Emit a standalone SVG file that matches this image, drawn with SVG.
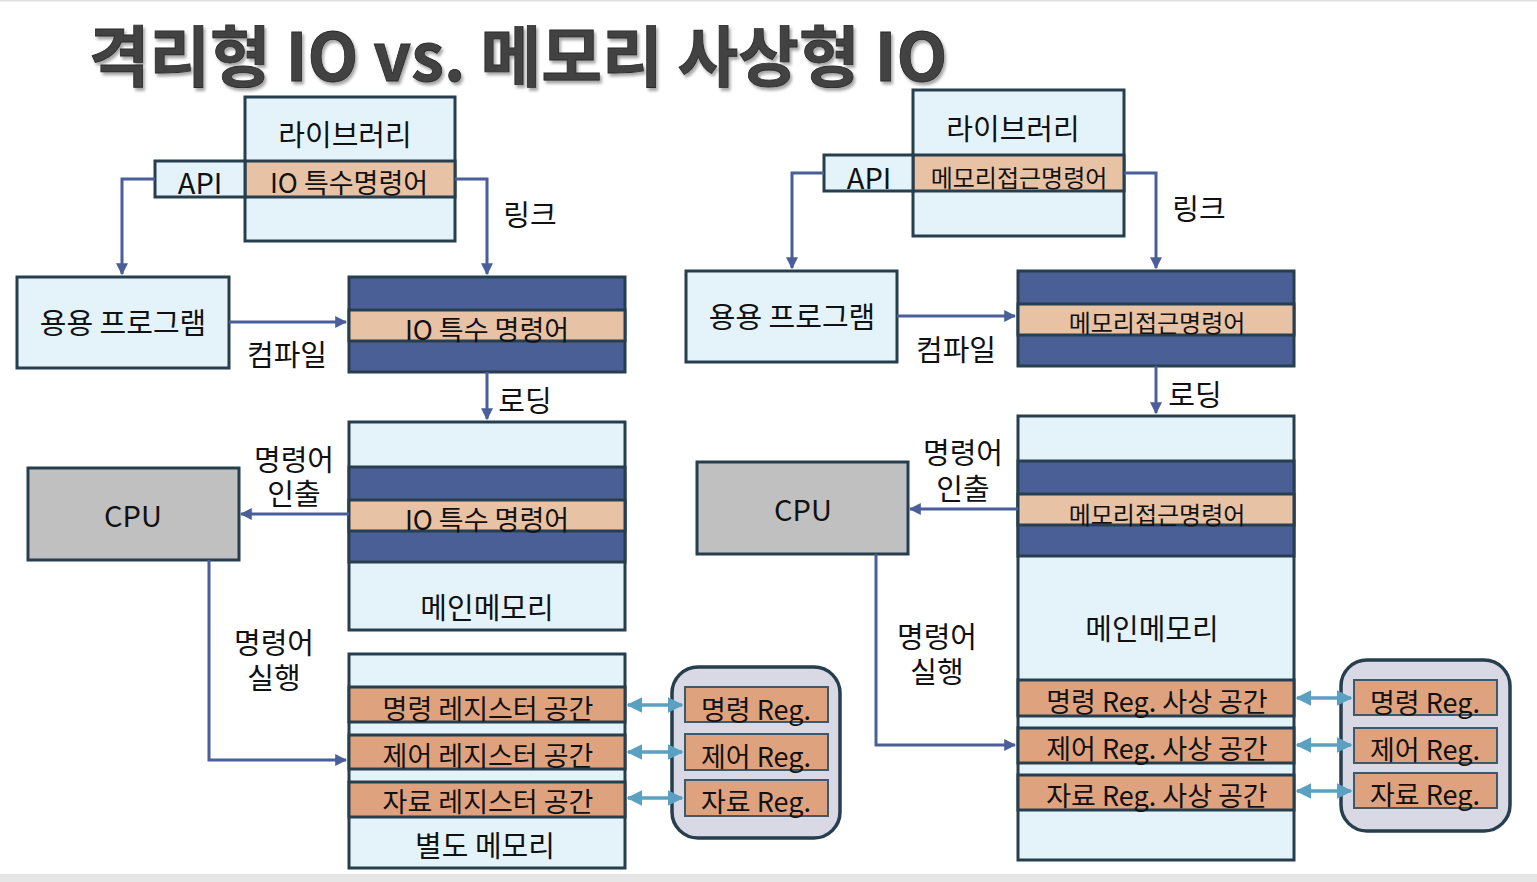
<svg xmlns="http://www.w3.org/2000/svg" width="1537" height="882" viewBox="0 0 1537 882">
<defs>
<style>
.t{font-family:"Noto Sans CJK KR","Liberation Sans",sans-serif;fill:#111;text-anchor:middle;dominant-baseline:central;font-size:29px}
.s{font-size:24px}
.r{font-size:27px}
.title{font-family:"Noto Sans CJK KR","Liberation Sans",sans-serif;font-weight:bold;font-size:66px;fill:#424242;text-anchor:middle;dominant-baseline:central;stroke:#2a2a2a;stroke-width:0.8}
.lb{fill:#e4f3f9;stroke:#263e4e;stroke-width:3}
.dk{fill:#4a5f96;stroke:#263e4e;stroke-width:3}
.pe{fill:#e8c2a4;stroke:#263e4e;stroke-width:3}
.or{fill:#dfa27e;stroke:#263e4e;stroke-width:3}
.ori{fill:#dfa27e;stroke:#3c5a6a;stroke-width:2}
.cpu{fill:#c0c0c0;stroke:#263e4e;stroke-width:3}
.grp{fill:#d9d9e6;stroke:#263e4e;stroke-width:3.5}
.c{fill:none;stroke:#4a5f9a;stroke-width:3}
.d{fill:none;stroke:#5aa0c0;stroke-width:3.5}
</style>
<marker id="a" viewBox="0 0 10 10" refX="9" refY="5" markerWidth="4" markerHeight="4" orient="auto"><path d="M0,0L10,5L0,10z" fill="#4a5f9a"/></marker>
<marker id="b" viewBox="0 0 10 10" refX="9" refY="5" markerWidth="4.5" markerHeight="4.5" orient="auto-start-reverse"><path d="M0,0L10,5L0,10z" fill="#5aa0c0"/></marker>
<filter id="sh" x="-5%" y="-20%" width="110%" height="150%"><feDropShadow dx="2" dy="3" stdDeviation="1.5" flood-color="#000" flood-opacity="0.35"/></filter>
</defs>
<rect x="0" y="0" width="1537" height="882" fill="#fff"/>
<rect x="0" y="874" width="1537" height="8" fill="#e6e6e6"/>
<rect x="0" y="0" width="1537" height="1.5" fill="#e0e0e0"/>
<text class="title" x="518" y="52" filter="url(#sh)">격리형 IO vs. 메모리 사상형 IO</text>

<g id="lib-left">
<rect class="lb" x="245" y="97" width="210" height="144"/>
<text class="t" x="345" y="133">라이브러리</text>
<rect class="pe" x="245" y="161" width="210" height="36"/>
<text class="t r" x="349" y="181">IO 특수명령어</text>
</g>
<g id="api-left">
<rect class="lb" x="155" y="161" width="90" height="36"/>
<text class="t" x="200" y="181">API</text>
</g>
<g id="app-left">
<rect class="lb" x="17" y="277" width="212" height="91"/>
<text class="t" x="123" y="321">용용 프로그램</text>
</g>
<g id="obj-left">
<rect class="dk" x="349" y="277" width="276" height="95"/>
<rect class="pe" x="349" y="310" width="276" height="31"/>
<text class="t r" x="487" y="328">IO 특수 명령어</text>
</g>
<g id="mem-left">
<rect class="lb" x="349" y="422" width="276" height="208"/>
<rect class="dk" x="349" y="467" width="276" height="95"/>
<rect class="pe" x="349" y="500" width="276" height="31"/>
<text class="t r" x="487" y="518">IO 특수 명령어</text>
<text class="t" x="487" y="606">메인메모리</text>
</g>
<g id="cpu-left">
<rect class="cpu" x="28" y="468" width="211" height="92"/>
<text class="t" x="133" y="514">CPU</text>
</g>
<g id="io-mem-left">
<rect class="lb" x="349" y="654" width="276" height="214"/>
<rect class="or" x="349" y="687" width="276" height="35"/>
<text class="t r" x="488" y="707">명령 레지스터 공간</text>
<rect class="or" x="349" y="735" width="276" height="34"/>
<text class="t r" x="488" y="754">제어 레지스터 공간</text>
<rect class="or" x="349" y="782" width="276" height="35"/>
<text class="t r" x="488" y="800">자료 레지스터 공간</text>
<text class="t" x="485" y="844">별도 메모리</text>
</g>
<g id="regs-left">
<rect class="grp" x="672" y="667" width="168" height="171" rx="26"/>
<rect class="ori" x="685" y="687" width="143" height="35"/>
<text class="t r" x="756" y="708">명령 Reg.</text>
<rect class="ori" x="685" y="734" width="143" height="36"/>
<text class="t r" x="756" y="755">제어 Reg.</text>
<rect class="ori" x="685" y="780" width="143" height="36"/>
<text class="t r" x="756" y="800">자료 Reg.</text>
</g>

<g id="lib-right">
<rect class="lb" x="913" y="90" width="211" height="146"/>
<text class="t" x="1013" y="127">라이브러리</text>
<rect class="pe" x="913" y="155" width="211" height="36"/>
<text class="t s" x="1019" y="176">메모리접근명령어</text>
</g>
<g id="api-right">
<rect class="lb" x="824" y="155" width="89" height="36"/>
<text class="t" x="869" y="176">API</text>
</g>
<g id="app-right">
<rect class="lb" x="686" y="271" width="211" height="91"/>
<text class="t" x="792" y="315">용용 프로그램</text>
</g>
<g id="obj-right">
<rect class="dk" x="1018" y="271" width="276" height="95"/>
<rect class="pe" x="1018" y="304" width="276" height="31"/>
<text class="t s" x="1157" y="321">메모리접근명령어</text>
</g>
<g id="mem-right">
<rect class="lb" x="1018" y="416" width="276" height="444"/>
<rect class="dk" x="1018" y="461" width="276" height="95"/>
<rect class="pe" x="1018" y="494" width="276" height="31"/>
<text class="t s" x="1157" y="513">메모리접근명령어</text>
<text class="t" x="1152" y="627">메인메모리</text>
<rect class="or" x="1018" y="680" width="276" height="36"/>
<text class="t r" x="1157" y="700">명령 Reg. 사상 공간</text>
<rect class="or" x="1018" y="728" width="276" height="35"/>
<text class="t r" x="1157" y="747">제어 Reg. 사상 공간</text>
<rect class="or" x="1018" y="775" width="276" height="35"/>
<text class="t r" x="1157" y="794">자료 Reg. 사상 공간</text>
</g>
<g id="cpu-right">
<rect class="cpu" x="697" y="462" width="211" height="92"/>
<text class="t" x="803" y="508">CPU</text>
</g>
<g id="regs-right">
<rect class="grp" x="1341" y="660" width="169" height="171" rx="26"/>
<rect class="ori" x="1354" y="680" width="143" height="35"/>
<text class="t r" x="1425" y="701">명령 Reg.</text>
<rect class="ori" x="1354" y="728" width="143" height="35"/>
<text class="t r" x="1425" y="748">제어 Reg.</text>
<rect class="ori" x="1354" y="773" width="143" height="35"/>
<text class="t r" x="1425" y="793">자료 Reg.</text>
</g>

<g id="connectors">
<path class="c" d="M155,179H122V274" marker-end="url(#a)"/>
<path class="c" d="M455,179H487V274" marker-end="url(#a)"/>
<path class="c" d="M229,322H346" marker-end="url(#a)"/>
<path class="c" d="M487,372V419" marker-end="url(#a)"/>
<path class="c" d="M349,514H241" marker-end="url(#a)"/>
<path class="c" d="M209,560V760H346" marker-end="url(#a)"/>
<path class="d" d="M628,705H682" marker-start="url(#b)" marker-end="url(#b)"/>
<path class="d" d="M628,752H682" marker-start="url(#b)" marker-end="url(#b)"/>
<path class="d" d="M628,798H682" marker-start="url(#b)" marker-end="url(#b)"/>
<path class="c" d="M824,173H792V268" marker-end="url(#a)"/>
<path class="c" d="M1124,173H1156V268" marker-end="url(#a)"/>
<path class="c" d="M897,316H1015" marker-end="url(#a)"/>
<path class="c" d="M1156,366V413" marker-end="url(#a)"/>
<path class="c" d="M1018,509H910" marker-end="url(#a)"/>
<path class="c" d="M876,554V745H1015" marker-end="url(#a)"/>
<path class="d" d="M1297,698H1351" marker-start="url(#b)" marker-end="url(#b)"/>
<path class="d" d="M1297,745H1351" marker-start="url(#b)" marker-end="url(#b)"/>
<path class="d" d="M1297,791H1351" marker-start="url(#b)" marker-end="url(#b)"/>
<text class="t" x="530" y="213">링크</text>
<text class="t" x="287" y="353">컴파일</text>
<text class="t" x="525" y="399">로딩</text>
<text class="t" x="294" y="458">명령어<tspan x="294" dy="34">인출</tspan></text>
<text class="t" x="274" y="641">명령어<tspan x="274" dy="35">실행</tspan></text>
<text class="t" x="1199" y="207">링크</text>
<text class="t" x="956" y="348">컴파일</text>
<text class="t" x="1195" y="393">로딩</text>
<text class="t" x="963" y="451">명령어<tspan x="963" dy="36">인출</tspan></text>
<text class="t" x="937" y="635">명령어<tspan x="937" dy="35">실행</tspan></text>
</g>
</svg>
